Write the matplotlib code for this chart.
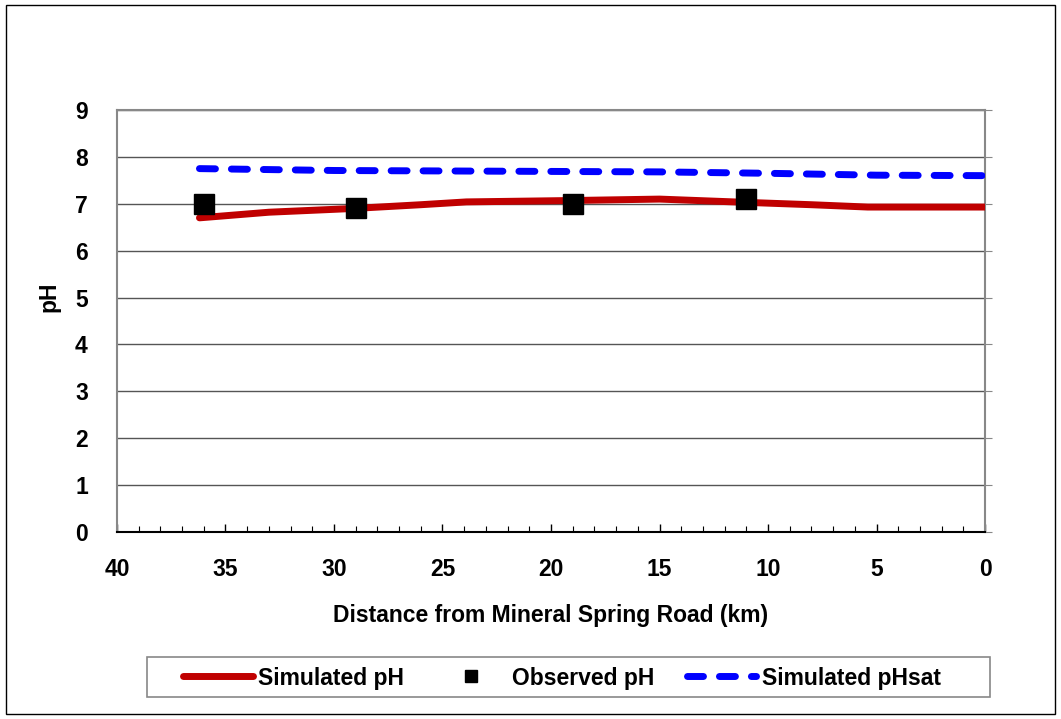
import matplotlib
matplotlib.use("Agg")
import matplotlib.pyplot as plt
from matplotlib.patches import Rectangle
from matplotlib.ticker import MultipleLocator

plt.rcParams['font.family'] = ['Liberation Sans', 'DejaVu Sans']
plt.rcParams['font.weight'] = 'bold'

# Simulated pH (km, pH)
sim_km = [36.2, 33.0, 29.1, 26.0, 23.9, 19.0, 15.0, 11.0, 8.0, 5.4, 2.0, 0.0]
sim_ph = [6.70, 6.82, 6.90, 6.98, 7.04, 7.07, 7.10, 7.03, 6.98, 6.93, 6.93, 6.93]

# Observed pH
obs_km = [36.0, 29.0, 19.0, 11.0]
obs_ph = [7.0, 6.9, 7.0, 7.1]

# Simulated pHsat
sat_km = [36.2, 30.0, 25.0, 20.0, 15.0, 10.0, 5.0, 0.0]
sat_ph = [7.75, 7.71, 7.70, 7.69, 7.68, 7.65, 7.61, 7.60]

FS = 16.5
W, H = 1061, 719
fig = plt.figure(figsize=(W / 100, H / 100), dpi=100)
ax = fig.add_axes([117 / W, 1 - 532 / H, (985 - 117) / W, (532 - 110) / H])

ax.plot(sim_km, sim_ph, color='#C00000', lw=5, solid_capstyle='round',
        label='Simulated pH', zorder=3)
ax.plot(obs_km, obs_ph, ls='none', marker='s', ms=14, color='black',
        label='Observed pH', zorder=4)
ax.plot(sat_km, sat_ph, color='#0000FF', lw=5, ls=(0, (2.3, 2.3)),
        dash_capstyle='round', label='Simulated pHsat', zorder=3)

ax.set_xlim(40, 0)
ax.set_ylim(0, 9)
ax.xaxis.set_major_locator(MultipleLocator(5))
ax.xaxis.set_minor_locator(MultipleLocator(1))
ax.yaxis.set_major_locator(MultipleLocator(1))

ax.grid(axis='y', color='#555555', lw=1)
ax.set_axisbelow(True)

for s in ['left', 'top', 'right']:
    ax.spines[s].set_color('#888888')
    ax.spines[s].set_linewidth(1.5)
ax.spines['bottom'].set_color('black')
ax.spines['bottom'].set_linewidth(1.5)

ax.tick_params(axis='x', which='major', direction='in', length=6, width=1,
               labelsize=FS, pad=19)
ax.tick_params(axis='x', which='minor', direction='in', length=4, width=0.8)
ax.tick_params(axis='y', left=False, right=True, direction='out', length=5,
               color='#888888', labelsize=FS, pad=16)

ax.set_xlabel('Distance from Mineral Spring Road (km)', fontsize=FS,
              fontweight='bold', labelpad=16)
ax.set_ylabel('pH', fontsize=FS, fontweight='bold')
ax.yaxis.set_label_coords((60 - 117) / 868, (532 - 297) / 422)

leg = fig.legend(loc='center', bbox_to_anchor=(562 / W, 1 - 678 / H),
                 ncol=3, fontsize=FS, frameon=False,
                 handlelength=3.05, columnspacing=1.4, handletextpad=0.25,
                 borderpad=0.3, markerscale=0.6)

fig.patches.append(Rectangle((147 / W, 1 - 697 / H), (990 - 147) / W, 40 / H,
                             transform=fig.transFigure, fill=False,
                             edgecolor='#888888', lw=1.2))
fig.patches.append(Rectangle((6 / W, 5 / H), 1 - 12 / W, 1 - 10 / H,
                             transform=fig.transFigure, fill=False,
                             edgecolor='black', lw=1))

fig.savefig('out.png', dpi=100)
